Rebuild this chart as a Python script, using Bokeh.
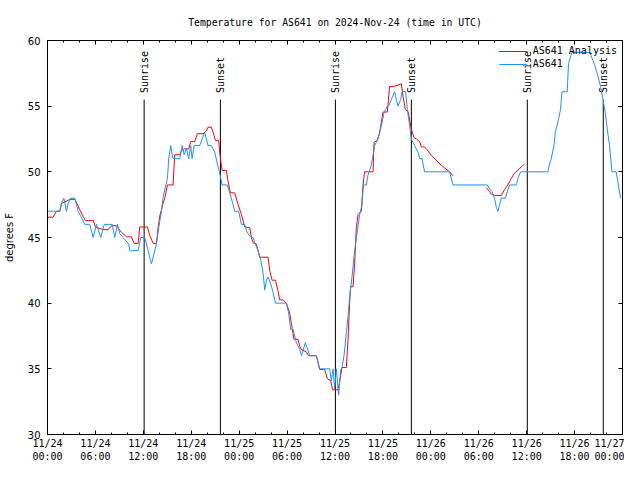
import math
from bokeh.plotting import figure
from bokeh.models import FixedTicker, LinearAxis, Range1d, Legend, LegendItem
from bokeh.core.properties import value
from bokeh.embed import file_html
from bokeh.resources import INLINE

# ---- data (time in hours since 2024-11-24 00:00 UTC) ----
blue_hours = [0.0, 1.54, 1.75, 2.04, 2.38, 2.59, 2.92, 3.42, 3.84, 4.26,
              4.67, 5.29, 5.72, 6.13, 6.67, 7.10, 8.10, 8.42, 8.76, 9.05,
              9.47, 10.17, 10.30, 11.35, 11.68, 12.18, 12.60, 13.02, 13.64, 13.93,
              14.27, 14.48, 15.02, 15.18, 15.43, 15.61, 15.73, 16.56, 16.86, 17.11,
              17.39, 17.68, 17.93, 18.11, 18.36, 19.06, 19.36, 19.68, 19.89, 20.10,
              20.52, 20.94, 21.28, 21.56, 21.86, 22.52, 22.81, 23.24, 23.44, 23.94,
              24.28, 24.69, 24.91, 25.32, 25.74, 25.95, 26.37, 26.70, 27.00, 27.20,
              27.41, 27.62, 28.04, 28.25, 28.54, 29.91, 30.20, 30.45, 30.75, 31.16,
              31.58, 31.79, 32.00, 32.29, 32.63, 32.83, 33.67, 34.08, 35.33, 35.54,
              35.76, 35.96, 36.17, 36.38, 36.46, 36.71, 36.88, 37.13, 37.42, 37.63,
              37.83, 38.13, 38.46, 38.80, 39.09, 39.39, 39.55, 39.92, 40.13, 40.55,
              40.96, 41.38, 41.80, 42.14, 42.55, 42.71, 43.05, 43.47, 43.68, 43.89,
              44.22, 44.39, 44.84, 45.06, 45.35, 45.56, 45.97, 46.40, 46.60, 46.90,
              47.22, 50.35, 50.77, 55.07, 55.36, 55.66, 55.98, 56.20, 56.41, 56.61,
              56.82, 57.32, 57.57, 57.86, 58.70, 58.91, 59.24, 62.66, 62.86, 63.08,
              63.42, 63.58, 63.99, 64.24, 64.42, 65.08, 65.24, 65.67, 67.87, 68.29,
              68.58, 68.92, 69.25, 69.55, 69.84, 70.09, 70.38, 70.68, 71.21, 71.42,
              71.75]
blue_temp = [47.0, 47.0, 47.6, 48.0, 47.0, 47.6, 48.0, 48.0, 47.0, 46.5,
             46.0, 46.0, 45.0, 46.0, 45.0, 46.0, 46.0, 45.0, 46.0, 45.3,
             45.0, 44.5, 44.0, 44.0, 45.0, 45.0, 44.0, 43.0, 44.5, 45.75,
             47.0, 48.1, 49.5, 51.0, 52.0, 51.3, 51.0, 51.0, 52.0, 51.3,
             51.8, 51.0, 52.0, 51.0, 52.0, 52.0, 52.5, 53.0, 52.5, 52.0,
             52.0, 51.5, 50.6, 49.9, 49.0, 49.0, 48.4, 47.5, 47.0, 47.0,
             46.0, 46.0, 45.5, 45.1, 45.0, 44.6, 44.0, 43.3, 42.25, 41.0,
             41.75, 42.0, 41.3, 40.8, 40.0, 40.0, 39.25, 38.0, 38.0, 37.0,
             36.5, 36.0, 36.4, 37.0, 36.4, 36.0, 36.0, 35.0, 35.0, 34.1,
             35.0, 33.5, 35.0, 33.5, 33.0, 34.9, 35.1, 36.0, 37.75, 39.0,
             40.5, 42.0, 44.0, 45.5, 46.75, 47.5, 49.0, 49.0, 49.75, 50.5,
             52.0, 52.5, 53.5, 54.5, 55.0, 55.0, 55.5, 56.1, 55.5, 55.0,
             55.5, 56.1, 56.1, 54.75, 53.5, 52.5, 52.0, 51.5, 51.0, 51.0,
             50.0, 50.0, 49.0, 49.0, 48.7, 48.5, 48.0, 47.3, 47.0, 47.5,
             48.0, 48.0, 48.5, 49.0, 49.0, 49.5, 50.0, 50.0, 50.6, 51.0,
             52.0, 53.0, 54.0, 54.75, 56.1, 56.1, 58.25, 59.1, 59.1, 58.5,
             58.0, 57.3, 56.5, 55.5, 54.5, 53.25, 52.0, 50.0, 50.0, 49.25,
             48.0]

nan = float("nan")
red_hours = [0.0, 0.71, 1.13, 1.54, 1.75, 2.17, 2.79, 3.42, 3.84, 4.17,
             4.47, 4.76, 5.72, 6.01, 6.97, 7.60, 8.01, 8.64, 9.26, 9.89,
             10.51, 10.85, 11.35, 11.55, 12.52, 12.80, 13.23, 13.64, 13.85, 14.05,
             14.48, 14.68, 15.02, 15.73, 15.86, 15.93, 16.56, 16.77, 17.18, 17.68,
             17.93, 18.43, 18.77, 19.48, 19.89, 20.10, 20.52, 20.74, 21.02, 21.44,
             21.56, 21.86, 22.40, 22.62, 22.90, 23.44, 23.87, 24.28, 24.69, 25.32,
             25.53, 25.74, 26.16, 26.57, 27.62, 27.82, 28.12, 28.54, 28.87, 29.07,
             29.50, 29.91, 30.32, 30.53, 30.86, 31.37, 31.57, 31.79, 32.41, 32.70,
             33.67, 34.08, 34.71, 35.04, 35.46, 35.71, 36.38, 36.58, 36.88, 37.42,
             37.63, 37.83, 37.96, 38.26, 38.46, 38.67, 38.89, 39.30, 39.51, 39.71,
             40.76, 40.89, 41.30, 41.59, 42.01, 42.55, 42.84, 43.27, 43.89, 44.31,
             44.52, 44.81, 45.15, 45.56, 45.90, 46.18, 46.60, 46.81, 47.22, 47.64,
             48.06, 48.47, 48.89, 49.31, 49.72, 50.14, 50.35, 50.77, 52.90, 54.94,
             55.36, 55.57, 55.98, 56.82, 57.23, 57.65, 58.07, 58.48, 59.11, 59.74]
red_temp = [46.55, 46.55, 47.0, 47.0, 47.6, 47.7, 47.9, 47.9, 47.4, 46.95,
            46.6, 46.3, 46.3, 45.8, 45.6, 45.6, 45.9, 45.9, 45.4, 45.05,
            45.05, 44.55, 44.55, 45.8, 45.8, 45.15, 44.55, 44.55, 45.75, 46.6,
            47.6, 48.0, 49.0, 49.0, 50.6, 51.3, 51.3, 51.6, 51.75, 51.75,
            52.3, 52.3, 52.9, 52.9, 53.1, 53.4, 53.4, 53.0, 52.4, 52.4,
            51.5, 50.1, 50.1, 49.25, 48.4, 48.4, 47.5, 46.75, 45.8, 45.75,
            45.0, 44.6, 44.5, 43.5, 43.5, 42.5, 41.75, 41.75, 40.9, 40.25,
            40.25, 40.0, 39.25, 38.5, 37.25, 37.25, 36.75, 36.45, 36.3, 36.0,
            36.0, 34.95, 34.95, 34.25, 34.1, 33.4, 33.4, 34.0, 35.1, 35.1,
            37.25, 40.0, 41.25, 41.25, 43.0, 45.75, 46.75, 47.0, 49.0, 50.0,
            50.0, 52.25, 52.4, 53.0, 54.55, 54.55, 56.5, 56.5, 56.6, 56.7,
            55.75, 54.75, 54.6, 53.25, 52.6, 52.5, 52.3, 51.9, 51.9, 51.6,
            51.25, 51.0, 50.75, 50.5, 50.3, 50.1, 50.0, 49.7, nan, 48.8,
            48.5, 48.3, 48.2, 48.2, 48.65, 49.0, 49.5, 49.9, 50.25, 50.6]

sun_hours = [12.10, 21.65, 36.05, 45.56, 60.08, 69.59]
sun_names = ["Sunrise", "Sunset", "Sunrise", "Sunset", "Sunrise", "Sunset"]
sun_line_top = 55.5
sun_label_y = 56.0

x_tick_hours = [0, 6, 12, 18, 24, 30, 36, 42, 48, 54, 60, 66, 72]
x_tick_labels = ["11/24\n00:00", "11/24\n06:00", "11/24\n12:00", "11/24\n18:00",
                 "11/25\n00:00", "11/25\n06:00", "11/25\n12:00", "11/25\n18:00",
                 "11/26\n00:00", "11/26\n06:00", "11/26\n12:00", "11/26\n18:00",
                 "11/27\n00:00"]
x_minor_hours = list(range(0, 73, 2))
y_ticks = [30, 35, 40, 45, 50, 55, 60]

MONO = "DejaVu Sans Mono"
SANS = "DejaVu Sans"
RED = "#ff0000"
BLUE = "#1e90ff"

p = figure(width=624, height=464, output_backend="svg", toolbar_location=None,
           x_range=Range1d(0, 72), y_range=Range1d(30, 60),
           min_border_left=46, min_border_right=2, min_border_top=40,
           min_border_bottom=27)
p.background_fill_color = "white"
p.border_fill_color = "white"
p.outline_line_color = "black"
p.outline_line_width = 1
p.grid.visible = False

p.title.text = "Temperature for AS641 on 2024-Nov-24 (time in UTC)"
p.title.align = "center"
p.title.text_font = MONO
p.title.text_font_size = "9.75px"
p.title.text_font_style = "normal"
p.title.text_color = "black"
p.title.standoff = 26

xt = FixedTicker(ticks=x_tick_hours, minor_ticks=x_minor_hours)
yt = FixedTicker(ticks=y_ticks, minor_ticks=[])

def style_axis(ax, ticker):
    ax.ticker = ticker
    ax.axis_line_color = "black"
    ax.major_tick_line_color = "black"
    ax.minor_tick_line_color = "black"
    ax.major_tick_in = 4
    ax.major_tick_out = 0
    ax.minor_tick_in = 2
    ax.minor_tick_out = 0

style_axis(p.xaxis[0], xt)
p.xaxis.major_label_overrides = {t: l for t, l in zip(x_tick_hours, x_tick_labels)}
p.xaxis.major_label_text_font = MONO
p.xaxis.major_label_text_font_size = "10px"
p.xaxis.major_label_text_color = "black"
p.xaxis.major_label_text_line_height = 1.2
p.xaxis.major_label_standoff = 3

style_axis(p.yaxis[0], yt)
p.yaxis.major_label_text_font = SANS
p.yaxis.major_label_text_font_size = "10px"
p.yaxis.major_label_text_color = "black"
p.yaxis.major_label_standoff = 7
p.yaxis.axis_label = "degrees F"
p.yaxis.axis_label_text_font = SANS
p.yaxis.axis_label_text_font_size = "10px"
p.yaxis.axis_label_text_font_style = "normal"
p.yaxis.axis_label_text_color = "black"
p.yaxis.axis_label_standoff = 10

top_ax = LinearAxis()
style_axis(top_ax, xt)
top_ax.major_label_overrides = {t: "" for t in x_tick_hours}
top_ax.major_label_standoff = 0
p.add_layout(top_ax, "above")

right_ax = LinearAxis()
style_axis(right_ax, yt)
right_ax.major_label_overrides = {t: "" for t in y_ticks}
right_ax.major_label_standoff = 0
p.add_layout(right_ax, "right")

# sunrise / sunset markers
p.segment(x0=sun_hours, y0=[30] * len(sun_hours), x1=sun_hours,
          y1=[sun_line_top] * len(sun_hours), line_color="black", line_width=1)
p.text(x=sun_hours, y=[sun_label_y] * len(sun_hours), text=sun_names,
       angle=math.pi / 2, text_align="left", text_baseline="middle",
       text_font=value(MONO), text_font_size="10px", text_color="black")

r_red = p.line(red_hours, red_temp, line_color=RED, line_width=1)
r_blue = p.line(blue_hours, blue_temp, line_color=BLUE, line_width=1)

legend = Legend(items=[LegendItem(label="AS641 Analysis", renderers=[r_red]),
                       LegendItem(label="AS641", renderers=[r_blue])],
                location="top_right")
legend.label_text_font = MONO
legend.label_text_font_size = "10px"
legend.label_text_color = "black"
legend.background_fill_alpha = 0
legend.border_line_alpha = 0
legend.glyph_width = 28
legend.glyph_height = 10
legend.label_height = 10
legend.spacing = 2
legend.padding = 0
legend.margin = 5
legend.label_standoff = 6
p.add_layout(legend)

open("out.html", "w").write(file_html(p, INLINE))
